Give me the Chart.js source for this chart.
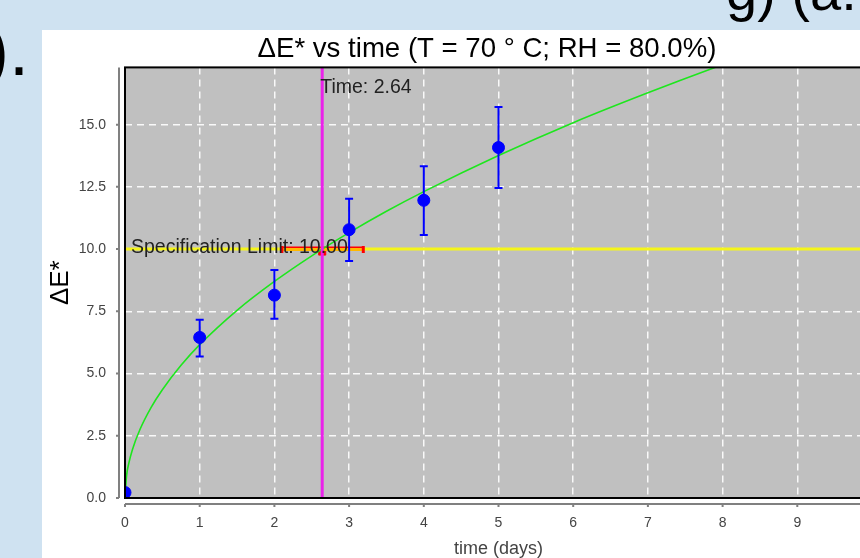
<!DOCTYPE html>
<html>
<head>
<meta charset="utf-8">
<script src="https://cdn.jsdelivr.net/npm/chart.js@4.4.0/dist/chart.umd.min.js"></script>
<style>
  html, body { margin: 0; padding: 0; overflow: hidden; }
  body { width: 860px; height: 558px; background: #cfe2f1; position: relative; }
  .slide { position: absolute; color: #000; font-family: "Liberation Sans", Arial, sans-serif; white-space: nowrap; line-height: 60px; }
  #chartBox { position: absolute; left: 42px; top: 30px; width: 890px; height: 532px; background: #fff; }
</style>
</head>
<body>
<div class="slide" style="left:-171px; top:20px; width:200px; text-align:right; font-size:72px;">(b).</div>
<div class="slide" style="left:726px; top:-39px; font-size:56px;">g) (a.</div>
<div id="chartBox"><canvas id="myChart" width="890" height="532"></canvas></div>
<script>
// measured points with error bars
const timeDays = [0, 1, 2, 3, 4, 5]
const deltaE = [0.22, 6.45, 8.15, 10.78, 11.96, 14.08]
const deltaELow = [null, 5.68, 7.20, 9.52, 10.57, 12.45]
const deltaEHigh = [null, 7.16, 9.16, 12.02, 13.33, 15.71]

// fitted curve
const fitTime = [0, 0.02, 0.05, 0.1, 0.2, 0.35, 0.5, 0.75, 1, 1.5, 2, 2.5, 3, 3.5, 4, 5, 6, 7, 8, 8.3]
const fitDeltaE = [0, 0.87, 1.38, 1.95, 2.75, 3.64, 4.35, 5.33, 6.16, 7.54, 8.70, 9.73, 10.66, 11.52, 12.31, 13.76, 15.08, 16.28, 17.41, 17.73]

// spec limit and crossing time
const specLimit = 10.0
const crossTime = 2.64
const crossTimeLow = 2.10
const crossTimeHigh = 3.19

// axes
const xMin = 0, xMax = 10, xStep = 1
const yMin = 0, yMax = 17.3, yStep = 2.5
const chartTitle = 'ΔE* vs time (T = 70 ° C; RH = 80.0%)'

const toXY = (xs, ys) => xs.map((v, i) => ({ x: v, y: ys[i] }))

const plotDecor = {
  id: 'plotDecor',
  beforeDraw(chart) {
    const { ctx, chartArea: a } = chart
    ctx.save()
    ctx.fillStyle = '#c0c0c0'
    ctx.fillRect(a.left, a.top, a.right - a.left, a.bottom - a.top)
    // chart title, centred on the whole chart panel
    ctx.fillStyle = '#000'
    ctx.font = '27.6px "Liberation Sans"'
    ctx.textAlign = 'center'
    ctx.textBaseline = 'middle'
    ctx.fillText(chartTitle, 445, 19)
    ctx.restore()
  },
  beforeDatasetDraw(chart, args) {
    const { ctx, scales: { x, y } } = chart
    ctx.save()
    if (args.index === 0) {
      // vertical error bars under the points
      ctx.strokeStyle = '#0000ff'
      ctx.lineWidth = 2
      ctx.beginPath()
      timeDays.forEach((t, i) => {
        if (deltaELow[i] === null) return
        const px = x.getPixelForValue(t)
        const lo = y.getPixelForValue(deltaELow[i])
        const hi = y.getPixelForValue(deltaEHigh[i])
        ctx.moveTo(px, lo); ctx.lineTo(px, hi)
        ctx.moveTo(px - 4, lo); ctx.lineTo(px + 4, lo)
        ctx.moveTo(px - 4, hi); ctx.lineTo(px + 4, hi)
      })
      ctx.stroke()
    }
    if (args.index === 3) {
      // caps of the crossing-time interval
      const py = y.getPixelForValue(specLimit)
      ctx.strokeStyle = '#ff0000'
      ctx.lineWidth = 3
      ctx.beginPath()
      ;[crossTimeLow, crossTimeHigh].forEach(t => {
        const px = x.getPixelForValue(t)
        ctx.moveTo(px, py - 3); ctx.lineTo(px, py + 4)
      })
      ctx.stroke()
    }
    ctx.restore()
  },
  afterDatasetsDraw(chart) {
    const { ctx, chartArea: a, scales: { x, y } } = chart
    ctx.save()
    ctx.fillStyle = '#222'
    ctx.font = '19.5px "Liberation Sans"'
    ctx.textBaseline = 'alphabetic'
    ctx.fillText('Specification Limit: ' + specLimit.toFixed(2), x.getPixelForValue(0) + 6, y.getPixelForValue(specLimit) + 4)
    ctx.fillText('Time: ' + crossTime.toFixed(2), x.getPixelForValue(crossTime) - 2, a.top + 26)

    // plot outline
    ctx.strokeStyle = '#000'
    ctx.lineWidth = 2
    ctx.strokeRect(a.left, a.top, a.right - a.left, a.bottom - a.top)

    // offset gray axis lines with outer tick marks
    ctx.strokeStyle = '#808080'
    ctx.beginPath()
    ctx.moveTo(a.left - 6, a.top); ctx.lineTo(a.left - 6, a.bottom)
    y.ticks.forEach(t => {
      const py = y.getPixelForValue(t.value)
      ctx.moveTo(a.left - 9, py); ctx.lineTo(a.left - 6, py)
    })
    ctx.moveTo(a.left, a.bottom + 6); ctx.lineTo(a.right, a.bottom + 6)
    x.ticks.forEach(t => {
      const px = x.getPixelForValue(t.value)
      ctx.moveTo(px, a.bottom + 6); ctx.lineTo(px, a.bottom + 9)
    })
    ctx.stroke()
    ctx.restore()
  }
}

Chart.defaults.font.family = '"Liberation Sans", Arial, sans-serif'

const ctx = document.getElementById('myChart').getContext('2d')
const chart = new Chart(ctx, {
  type: 'scatter',
  data: {
    datasets: [
      {
        label: 'ΔE*',
        data: toXY(timeDays, deltaE),
        backgroundColor: '#0000ff',
        borderColor: '#0000ff',
        pointRadius: 6,
        clip: 0
      },
      {
        label: 'Time',
        type: 'line',
        data: [{ x: crossTime, y: yMin }, { x: crossTime, y: yMax }],
        borderColor: '#ea22ea',
        borderWidth: 3,
        pointRadius: 0
      },
      {
        label: 'Fit',
        type: 'line',
        data: toXY(fitTime, fitDeltaE),
        borderColor: '#1ee61e',
        borderWidth: 1.6,
        pointRadius: 0,
        cubicInterpolationMode: 'monotone'
      },
      {
        label: 'Time interval',
        type: 'line',
        data: [{ x: crossTimeLow, y: specLimit + 0.07 }, { x: crossTimeHigh, y: specLimit + 0.07 }],
        borderColor: '#ff0000',
        borderWidth: 1.5,
        pointRadius: 0
      },
      {
        label: 'Interval band',
        type: 'line',
        data: [{ x: crossTimeLow, y: specLimit }, { x: crossTimeHigh, y: specLimit }],
        borderColor: '#ffb800',
        borderWidth: 4,
        pointRadius: 0
      },
      {
        label: 'Crossing',
        data: [{ x: crossTime, y: specLimit - 0.1 }],
        backgroundColor: '#ff0000',
        borderColor: '#ff0000',
        pointStyle: 'rect',
        pointRadius: 5
      },
      {
        label: 'Specification Limit',
        type: 'line',
        data: [{ x: xMin, y: specLimit }, { x: xMax, y: specLimit }],
        borderColor: '#f5f51a',
        borderWidth: 3,
        pointRadius: 0
      }
    ]
  },
  options: {
    responsive: false,
    animation: false,
    layout: { padding: { left: 0, right: 60, top: 37.4, bottom: 0 } },
    plugins: {
      legend: { display: false },
      tooltip: { enabled: false },
      title: { display: false }
    },
    scales: {
      x: {
        type: 'linear',
        min: xMin,
        max: xMax,
        afterFit: (s) => { s.height = 64 },
        ticks: { stepSize: xStep, color: '#444', font: { size: 14 }, padding: 17 },
        grid: { color: 'rgba(255,255,255,0.9)', lineWidth: 1.5, drawTicks: false },
        border: { display: false, dash: [7, 5] },
        title: { display: true, text: 'time (days)', color: '#444', font: { size: 18 }, padding: { top: 0, bottom: 2 } }
      },
      y: {
        type: 'linear',
        min: yMin,
        max: yMax,
        afterFit: (s) => { s.width = 83 },
        ticks: {
          stepSize: yStep,
          includeBounds: false,
          color: '#444',
          font: { size: 14 },
          padding: 19,
          callback: (v) => v.toFixed(1)
        },
        grid: { color: 'rgba(255,255,255,0.9)', lineWidth: 1.5, drawTicks: false },
        border: { display: false, dash: [7, 5] },
        title: { display: true, text: 'ΔE*', color: '#000', font: { size: 26 }, padding: { top: 3, bottom: 0 } }
      }
    }
  },
  plugins: [plotDecor]
})
</script>
</body>
</html>
